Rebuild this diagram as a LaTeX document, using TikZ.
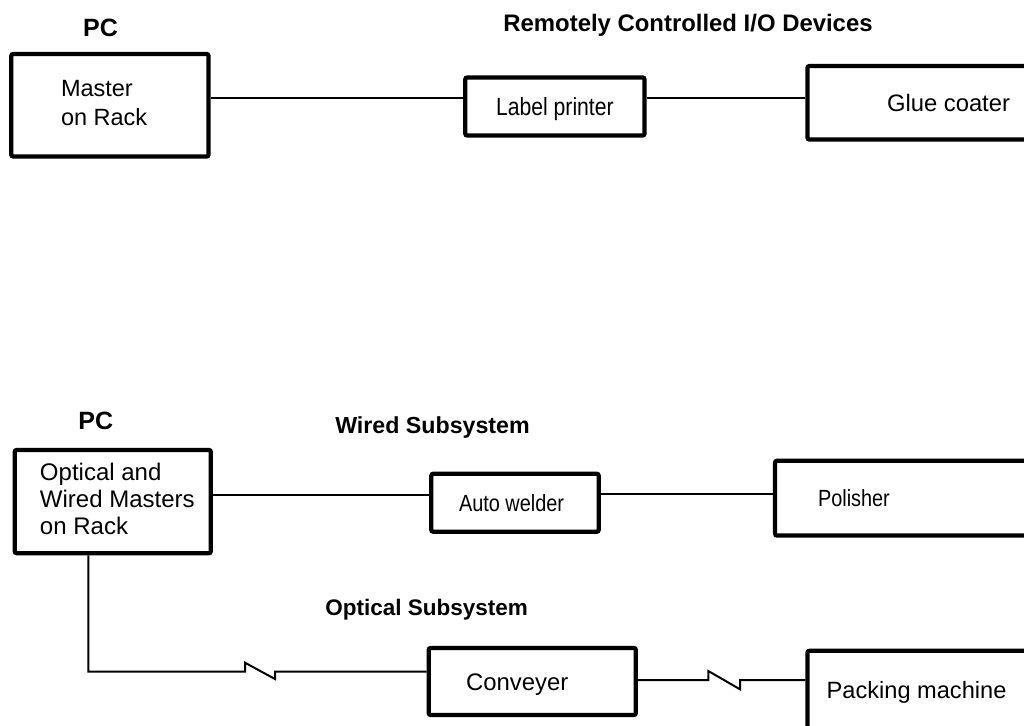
\documentclass[tikz,border=0pt]{standalone}
\usepackage{fontspec}
\setmainfont{Liberation Sans}
\newfontfamily\narrowsans[FakeStretch=0.85]{Liberation Sans}
\newcommand{\lefttext}[3]{\makebox[#1][l]{\hspace*{#2}#3}}
\newcommand{\fs}[1]{\fontsize{#1}{1.2\dimexpr#1pt\relax}\selectfont}
\begin{document}
\begin{tikzpicture}[x=1pt,y=-1pt,
  box/.style={draw, line width=4.3pt, rounded corners=2pt, inner sep=0pt},
  wire/.style={line width=2pt},
  ttl/.style={anchor=base, inner sep=0pt, font=\bfseries\fs{#1}},
  ttl/.default=23.5
]
\useasboundingbox (0,0) rectangle (1024,725);
\clip (0,0) rectangle (1024,725);

% ---------- upper diagram ----------
\node[ttl=25] (pc1) at (100.5,36.7) {PC};
\node[ttl=23.9] (t1) at (688,31.7) {Remotely Controlled I/O Devices};

\node[box, minimum width=197.2pt, minimum height=102.5pt,
      font=\fontsize{23.5}{29.3}\selectfont] (M1) at (109.9,105.25)
  {\lefttext{197.2pt}{49.7pt}{\begin{tabular}{@{}l@{}}Master\\on Rack\end{tabular}}};

\node[box, minimum width=179.2pt, minimum height=58pt, font=\narrowsans\fs{24.9},
      text height=17.8pt, text depth=0pt] (LP) at (554.9,106.5) {Label printer};

\node[box, minimum width=300pt, minimum height=73.5pt, font=\fs{23.8},
      text height=17pt, text depth=0pt] (GC) at (957.5,102.75)
  {\lefttext{300pt}{79.5pt}{Glue coater}};

\draw[wire] (M1.east |- 0,98) -- (LP.west |- 0,98);
\draw[wire] (LP.east |- 0,98) -- (GC.west |- 0,98);

% ---------- lower diagram ----------
\node[ttl=25] (pc2) at (95.7,429.3) {PC};
\node[ttl=23.2] (t2) at (432.5,433.3) {Wired Subsystem};
\node[ttl=22.5] (t3) at (426.7,615.7) {Optical Subsystem};

\node[box, minimum width=196.1pt, minimum height=103.2pt,
      font=\fontsize{24}{27}\selectfont] (M2) at (112.75,501.6)
  {\lefttext{196.1pt}{25.3pt}{\begin{tabular}{@{}l@{}}Optical and\\Wired Masters\\on Rack\end{tabular}}};

\node[box, minimum width=167.4pt, minimum height=57.9pt, font=\narrowsans\fs{23.4},
      text height=16.75pt, text depth=0pt] (AW) at (515,502.75)
  {\lefttext{167.4pt}{27.7pt}{Auto welder}};

\node[box, minimum width=300pt, minimum height=74.7pt, font=\narrowsans\fs{23.4},
      text height=16.75pt, text depth=0pt] (PO) at (925,498.15)
  {\lefttext{300pt}{43pt}{Polisher}};

\node[box, minimum width=207.1pt, minimum height=67pt, font=\fs{23.9},
      text height=17.1pt, text depth=0pt] (CV) at (532.25,681.5)
  {\lefttext{207.1pt}{37.3pt}{Conveyer}};

\node[box, minimum width=300pt, minimum height=78.1pt, font=\fs{23.6},
      text height=16.9pt, text depth=0pt] (PM) at (957.5,689.85)
  {\lefttext{300pt}{19.2pt}{Packing machine}};

\draw[wire] (M2.east |- 0,495) -- (AW.west |- 0,495);
\draw[wire] (AW.east |- 0,494.3) -- (PO.west |- 0,494.3);

\coordinate (z1a) at (245,671.7);
\coordinate (z1b) at (275,671.7);
\draw[wire, line join=miter] (M2.south -| 88.3,0) -- (88.3,671.7) -- (z1a) -- ++(0,-9) -- (275,679) -- (z1b) -- (CV.west |- z1b);

\coordinate (z2a) at (708.3,680);
\coordinate (z2b) at (740,680);
\draw[wire, line join=miter] (CV.east |- z2a) -- (z2a) -- ++(0,-9) -- (740,689.3) -- (z2b) -- (PM.west |- z2b);
\end{tikzpicture}
\end{document}
